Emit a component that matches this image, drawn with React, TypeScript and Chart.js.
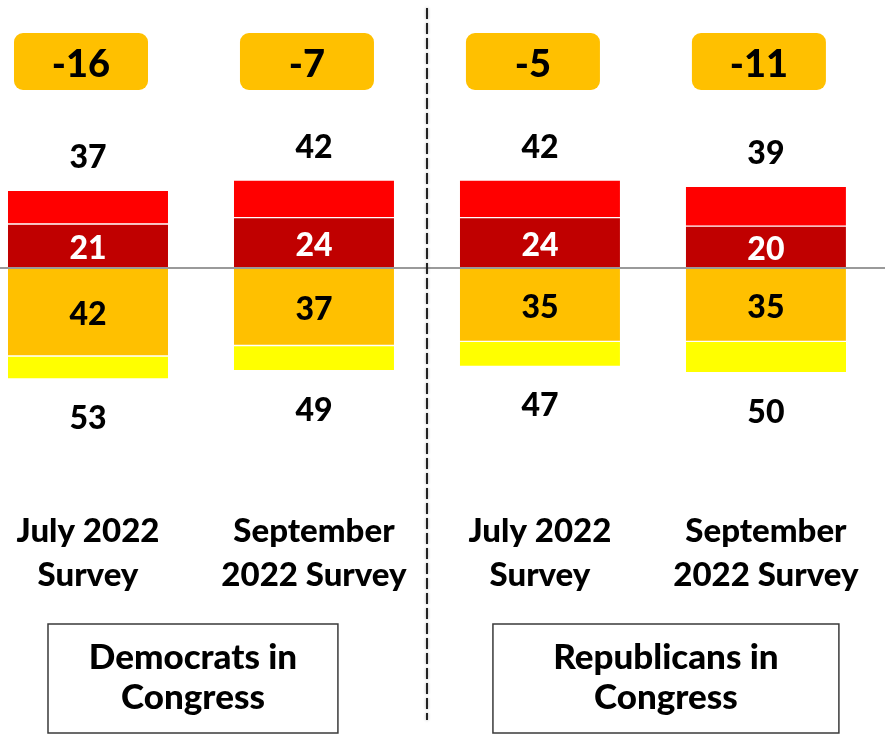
import React, { useEffect, useRef } from "react";
import { Chart, registerables } from "chart.js";
Chart.register(...registerables);

// ---- data ----
const categories: string[][] = [
  ["July 2022", "Survey"],
  ["September", "2022 Survey"],
  ["July 2022", "Survey"],
  ["September", "2022 Survey"],
];
const groupNames: string[][] = [
  ["Democrats in", "Congress"],
  ["Republicans in", "Congress"],
];
const innerTop = [21, 24, 24, 20]; // dark red, labelled
const outerTop = [16, 18, 18, 19]; // red
const innerBottom = [42, 37, 35, 35]; // orange, labelled
const outerBottom = [11, 12, 12, 15]; // yellow

const topTotals = innerTop.map((v, i) => v + outerTop[i]);
const bottomTotals = innerBottom.map((v, i) => v + outerBottom[i]);
const netValues = topTotals.map((v, i) => v - bottomTotals[i]);

const FONT = "Lato, 'Open Sans', sans-serif";
const W = "900";

const overlay = {
  id: "overlay",
  afterDatasetsDraw(chart: any) {
    const ctx = chart.ctx as CanvasRenderingContext2D;
    const xs = chart.scales.x;
    const ys = chart.scales.y;
    const area = chart.chartArea;
    ctx.save();

    // zero line
    const y0 = ys.getPixelForValue(0);
    ctx.strokeStyle = "#9a9a9a";
    ctx.lineWidth = 2;
    ctx.beginPath();
    ctx.moveTo(area.left, y0);
    ctx.lineTo(area.right, y0);
    ctx.stroke();

    // dashed divider between the two groups
    const xd = Math.round(xs.getPixelForValue(1.5));
    ctx.save();
    ctx.strokeStyle = "#222";
    ctx.lineWidth = 2;
    ctx.shadowColor = "rgba(0,0,0,0.35)";
    ctx.shadowBlur = 3;
    ctx.setLineDash([11, 4]);
    ctx.beginPath();
    ctx.moveTo(xd, area.top + 8);
    ctx.lineTo(xd, area.top + 720);
    ctx.stroke();
    ctx.restore();

    ctx.textAlign = "center";
    ctx.textBaseline = "middle";

    // segment labels
    const m0 = chart.getDatasetMeta(0);
    const m2 = chart.getDatasetMeta(2);
    ctx.font = `${W} 32px ${FONT}`;
    m0.data.forEach((el: any, i: number) => {
      ctx.fillStyle = "#ffffff";
      ctx.fillText(String(innerTop[i]), el.x, (el.y + el.base) / 2 + 3);
    });
    m2.data.forEach((el: any, i: number) => {
      ctx.fillStyle = "#000000";
      ctx.fillText(String(innerBottom[i]), el.x, (el.y + el.base) / 2 + 3);
    });

    // totals above and below
    ctx.textBaseline = "alphabetic";
    ctx.fillStyle = "#000";
    topTotals.forEach((v, i) => {
      const x = xs.getPixelForValue(i);
      ctx.fillText(String(v), x, ys.getPixelForValue(v) - 22);
    });
    bottomTotals.forEach((v, i) => {
      const x = xs.getPixelForValue(i);
      ctx.fillText(String(v), x, ys.getPixelForValue(-v) + 50);
    });

    // net badges
    netValues.forEach((v, i) => {
      const cx = xs.getPixelForValue(i) - 7;
      const w = 134, h = 57, top = area.top + 33;
      ctx.fillStyle = "#FFC000";
      ctx.beginPath();
      (ctx as any).roundRect(cx - w / 2, top, w, h, 9);
      ctx.fill();
      ctx.fillStyle = "#000";
      ctx.font = `${W} 38px ${FONT}`;
      ctx.textBaseline = "alphabetic";
      ctx.fillText(String(v), cx, top + 44);
    });

    // category labels
    ctx.font = `${W} 33px ${FONT}`;
    ctx.fillStyle = "#000";
    categories.forEach((lines, i) => {
      const x = xs.getPixelForValue(i);
      lines.forEach((t, k) => ctx.fillText(t, x, area.top + 542 + k * 44));
    });

    // group boxes
    const spans = [
      [-0.177, 1.106],
      [1.792, 3.323],
    ];
    groupNames.forEach((lines, g) => {
      const l = xs.getPixelForValue(spans[g][0]);
      const r = xs.getPixelForValue(spans[g][1]);
      const top = area.top + 624;
      const bottom = area.top + 733;
      ctx.strokeStyle = "#3a3a3a";
      ctx.lineWidth = 1.5;
      ctx.strokeRect(l, top, r - l, bottom - top);
      ctx.fillStyle = "#000";
      ctx.font = `${W} 35px ${FONT}`;
      lines.forEach((t, k) => ctx.fillText(t, (l + r) / 2, top + 45 + k * 40));
    });

    ctx.restore();
  },
};

export default function App() {
  const ref = useRef<HTMLCanvasElement | null>(null);
  useEffect(() => {
    if (!ref.current) return;
    const pts = (arr: number[], sign: number) => arr.map((v, i) => ({ x: i, y: sign * v }));
    const common = {
      barThickness: 160,
      borderColor: "#ffffff",
      borderWidth: { top: 1, bottom: 1, left: 0, right: 0 },
      borderSkipped: false,
    };
    const chart = new Chart(ref.current, {
      type: "bar",
      data: {
        datasets: [
          { label: "Inner top", data: pts(innerTop, 1), backgroundColor: "#C00000", ...common },
          { label: "Outer top", data: pts(outerTop, 1), backgroundColor: "#FF0000", ...common },
          { label: "Inner bottom", data: pts(innerBottom, -1), backgroundColor: "#FFC000", ...common },
          { label: "Outer bottom", data: pts(outerBottom, -1), backgroundColor: "#FFFF00", ...common },
        ] as any,
      },
      options: {
        animation: false,
        responsive: false,
        devicePixelRatio: 1,
        layout: { padding: 0 },
        plugins: { legend: { display: false }, tooltip: { enabled: false } },
        scales: {
          x: { type: "linear", stacked: true, offset: false, bounds: "ticks", min: -0.3894, max: 3.527, display: false },
          y: { stacked: true, min: -222.9, max: 127.9, display: false },
        },
      } as any,
      plugins: [overlay],
    });
    return () => chart.destroy();
  }, []);
  return (
    <div style={{ position: "absolute", left: 0, top: 0, width: 885, height: 735, background: "#fff" }}>
      <canvas ref={ref} width={885} height={735} />
    </div>
  );
}
